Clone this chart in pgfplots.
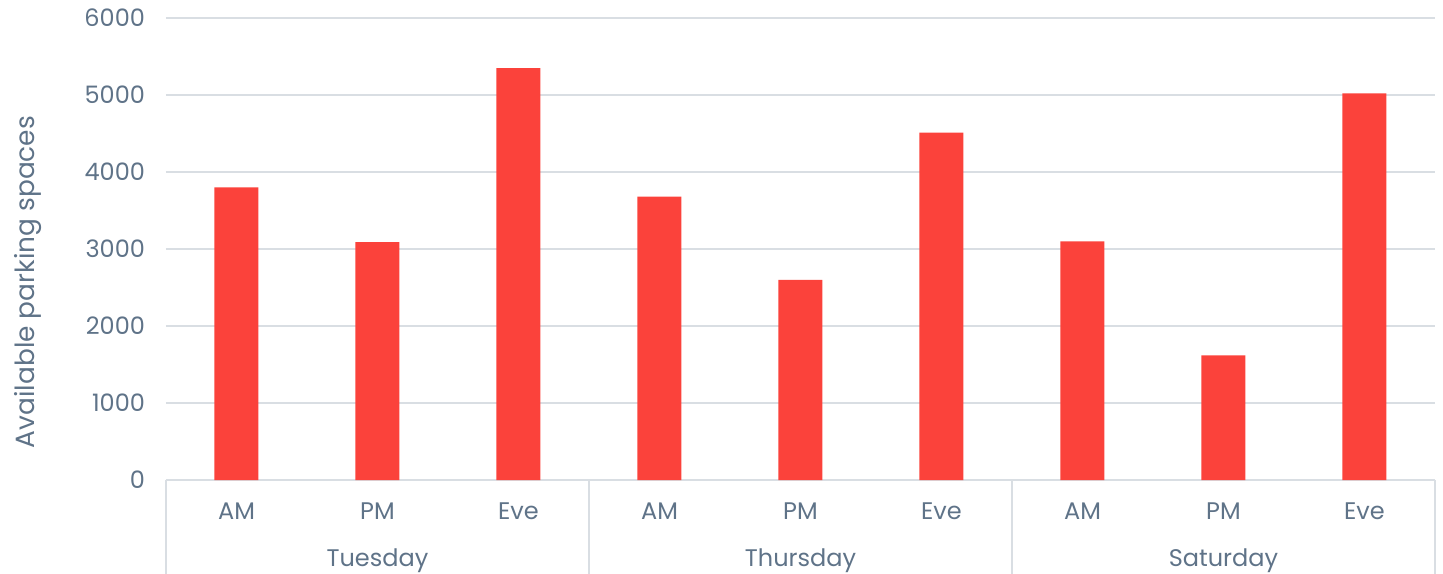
\documentclass[border=0pt]{standalone}
\usepackage{pgfplots}
\pgfplotsset{compat=1.18}
\usepackage{fontspec}
\setmainfont{Poppins}
\definecolor{barred}{HTML}{FB423B}
\definecolor{txt}{HTML}{5F7388}
\definecolor{gridc}{HTML}{D9DEE3}
\begin{document}
\begin{tikzpicture}
\useasboundingbox (-83pt,-46.5pt) rectangle (638.5pt,240pt);
\begin{axis}[
  at={(0,0)}, anchor=south west,
  scale only axis, width=634.5pt, height=231pt,
  xmin=-0.5, xmax=8.5, ymin=0, ymax=6000,
  ytick={0,1000,...,6000},
  xtick={0,...,8},
  xticklabels={AM,PM,Eve,AM,PM,Eve,AM,PM,Eve},
  major tick length=0pt,
  axis line style={draw=none},
  ymajorgrids, grid style={gridc, line width=0.9pt},
  font=\fontsize{12}{14}\selectfont,
  tick label style={txt},
  yticklabel style={xshift=-7pt},
  xticklabel style={yshift=-8pt},
  /pgf/number format/assume math mode=true,
  scaled y ticks=false,
  yticklabel={\pgfmathprintnumber[fixed,precision=0,1000 sep={}]{\tick}},
  clip=false,
  ybar, bar width=22pt,
]
\addplot[fill=barred, draw=none] coordinates {
 (0,3800) (1,3090) (2,5350)
 (3,3680) (4,2600) (5,4510)
 (6,3100) (7,1620) (8,5020)};
\pgfplotsinvokeforeach{-0.5,2.5,5.5,8.5}{
  \draw[gridc, line width=0.9pt] (axis cs:#1,0) -- ++(0pt,-48pt);
}
\node[txt, font=\fontsize{12}{14}\selectfont] at ([yshift=-40.5pt]axis cs:1,0) {Tuesday};
\node[txt, font=\fontsize{12}{14}\selectfont] at ([yshift=-40.5pt]axis cs:4,0) {Thursday};
\node[txt, font=\fontsize{12}{14}\selectfont] at ([yshift=-40.5pt]axis cs:7,0) {Saturday};
\end{axis}
\node[txt, rotate=90, font=\fontsize{13.2}{15}\selectfont] at (-69pt,99pt) {Available parking spaces};
\end{tikzpicture}
\end{document}
